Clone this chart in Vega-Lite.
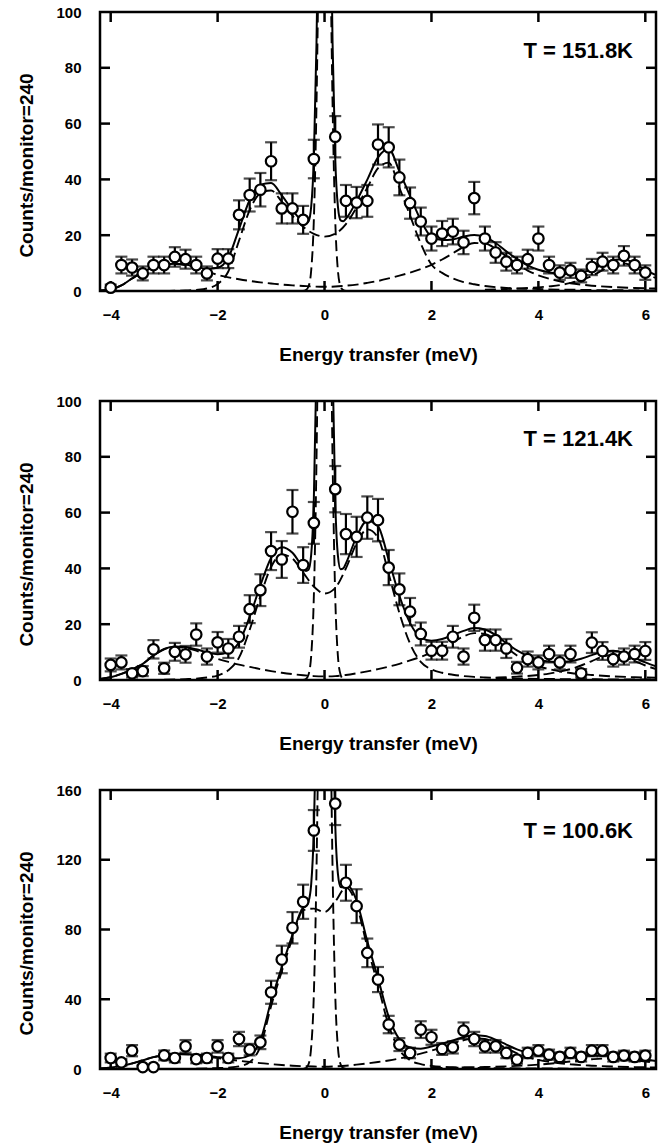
{
  "$schema": "https://vega.github.io/schema/vega-lite/v6.json",
  "background": "white",
  "padding": {"left": 16, "top": 3, "right": 8, "bottom": 3},
  "spacing": 110,
  "bounds": "flush",
  "datasets": {
    "fit1": [
      {"c":"t","e":-4.2,"v":0.2},{"c":"t","e":-4.0,"v":0.6},{"c":"t","e":-3.8,"v":2.0},{"c":"t","e":-3.6,"v":4.5},{"c":"t","e":-3.4,"v":6.8},{"c":"t","e":-3.2,"v":8.5},{"c":"t","e":-3.0,"v":9.4},{"c":"t","e":-2.8,"v":9.8},{"c":"t","e":-2.6,"v":9.5},{"c":"t","e":-2.4,"v":8.7},{"c":"t","e":-2.2,"v":7.9},{"c":"t","e":-2.0,"v":8.3},{"c":"t","e":-1.8,"v":11.9},{"c":"t","e":-1.6,"v":22.2},{"c":"t","e":-1.4,"v":32.6},{"c":"t","e":-1.2,"v":38.1},{"c":"t","e":-1.0,"v":38.7},{"c":"t","e":-0.8,"v":34.3},{"c":"t","e":-0.6,"v":29.0},{"c":"t","e":-0.4,"v":24.8},{"c":"t","e":-0.35,"v":24.2},{"c":"t","e":-0.3,"v":24.9},{"c":"t","e":-0.25,"v":30.2},{"c":"t","e":-0.2,"v":47.6},{"c":"t","e":-0.15,"v":89.1},{"c":"t","e":-0.1,"v":156.5},{"c":"t","e":-0.05,"v":225.6},{"c":"t","e":0,"v":256},{"c":"t","e":0.05,"v":225.6},{"c":"t","e":0.1,"v":156.4},{"c":"t","e":0.15,"v":89.0},{"c":"t","e":0.2,"v":47.6},{"c":"t","e":0.25,"v":30.3},{"c":"t","e":0.3,"v":25.3},{"c":"t","e":0.35,"v":25.0},{"c":"t","e":0.4,"v":25.9},{"c":"t","e":0.6,"v":32.3},{"c":"t","e":0.8,"v":39.9},{"c":"t","e":1.0,"v":47.9},{"c":"t","e":1.2,"v":50.9},{"c":"t","e":1.4,"v":42.9},{"c":"t","e":1.6,"v":34.0},{"c":"t","e":1.8,"v":25.4},{"c":"t","e":2.0,"v":19.4},{"c":"t","e":2.2,"v":18.3},{"c":"t","e":2.4,"v":18.5},{"c":"t","e":2.6,"v":19.5},{"c":"t","e":2.8,"v":20.1},{"c":"t","e":3.0,"v":19.3},{"c":"t","e":3.2,"v":17.2},{"c":"t","e":3.4,"v":14.2},{"c":"t","e":3.6,"v":11.5},{"c":"t","e":3.8,"v":9.2},{"c":"t","e":4.0,"v":7.6},{"c":"t","e":4.2,"v":6.7},{"c":"t","e":4.4,"v":6.1},{"c":"t","e":4.6,"v":6.2},{"c":"t","e":4.8,"v":6.6},{"c":"t","e":5.0,"v":7.7},{"c":"t","e":5.2,"v":9.5},{"c":"t","e":5.4,"v":11.1},{"c":"t","e":5.6,"v":11.4},{"c":"t","e":5.8,"v":9.8},{"c":"t","e":6.0,"v":7.6},{"c":"t","e":6.2,"v":5.7},
      {"c":"el","e":-0.4,"v":0},{"c":"el","e":-0.35,"v":0.3},{"c":"el","e":-0.3,"v":1.6},{"c":"el","e":-0.25,"v":7.3},{"c":"el","e":-0.2,"v":25.5},{"c":"el","e":-0.15,"v":67.3},{"c":"el","e":-0.1,"v":135},{"c":"el","e":-0.05,"v":204.5},{"c":"el","e":0,"v":235},{"c":"el","e":0.05,"v":204.5},{"c":"el","e":0.1,"v":135},{"c":"el","e":0.15,"v":67.3},{"c":"el","e":0.2,"v":25.5},{"c":"el","e":0.25,"v":7.3},{"c":"el","e":0.3,"v":1.6},{"c":"el","e":0.35,"v":0.3},{"c":"el","e":0.4,"v":0},
      {"c":"d1","e":-3.0,"v":0},{"c":"d1","e":-2.8,"v":0.1},{"c":"d1","e":-2.6,"v":0.2},{"c":"d1","e":-2.4,"v":0.4},{"c":"d1","e":-2.2,"v":0.9},{"c":"d1","e":-2.0,"v":2.5},{"c":"d1","e":-1.8,"v":7},{"c":"d1","e":-1.6,"v":18},{"c":"d1","e":-1.4,"v":29},{"c":"d1","e":-1.2,"v":35},{"c":"d1","e":-1.0,"v":36},{"c":"d1","e":-0.8,"v":32},{"c":"d1","e":-0.6,"v":27},{"c":"d1","e":-0.4,"v":23},{"c":"d1","e":-0.2,"v":20.5},{"c":"d1","e":0,"v":19.5},{"c":"d1","e":0.2,"v":20.5},{"c":"d1","e":0.4,"v":24},{"c":"d1","e":0.6,"v":30},{"c":"d1","e":0.8,"v":37},{"c":"d1","e":1.0,"v":44},{"c":"d1","e":1.2,"v":46},{"c":"d1","e":1.4,"v":37},{"c":"d1","e":1.6,"v":27},{"c":"d1","e":1.8,"v":17},{"c":"d1","e":2.0,"v":9.5},{"c":"d1","e":2.2,"v":6.5},{"c":"d1","e":2.4,"v":4.5},{"c":"d1","e":2.6,"v":3.2},{"c":"d1","e":2.8,"v":2.4},{"c":"d1","e":3.0,"v":1.8},{"c":"d1","e":3.2,"v":1.4},{"c":"d1","e":3.4,"v":1.1},{"c":"d1","e":3.6,"v":0.9},{"c":"d1","e":3.8,"v":0.8},{"c":"d1","e":4.0,"v":0.7},{"c":"d1","e":4.4,"v":0.5},{"c":"d1","e":4.8,"v":0.4},{"c":"d1","e":5.2,"v":0.3},{"c":"d1","e":5.6,"v":0.25},{"c":"d1","e":6.2,"v":0.2},
      {"c":"d2","e":-4.2,"v":0.2},{"c":"d2","e":-4.0,"v":0.6},{"c":"d2","e":-3.8,"v":2.0},{"c":"d2","e":-3.6,"v":4.5},{"c":"d2","e":-3.4,"v":6.8},{"c":"d2","e":-3.2,"v":8.5},{"c":"d2","e":-3.0,"v":9.4},{"c":"d2","e":-2.8,"v":9.7},{"c":"d2","e":-2.6,"v":9.3},{"c":"d2","e":-2.4,"v":8.3},{"c":"d2","e":-2.2,"v":7.0},{"c":"d2","e":-2.0,"v":5.8},{"c":"d2","e":-1.8,"v":4.9},{"c":"d2","e":-1.6,"v":4.2},{"c":"d2","e":-1.4,"v":3.6},{"c":"d2","e":-1.2,"v":3.1},{"c":"d2","e":-1.0,"v":2.7},{"c":"d2","e":-0.8,"v":2.3},{"c":"d2","e":-0.6,"v":2.0},{"c":"d2","e":-0.4,"v":1.8},{"c":"d2","e":-0.2,"v":1.6},{"c":"d2","e":0,"v":1.5},{"c":"d2","e":0.2,"v":1.6},{"c":"d2","e":0.4,"v":1.9},{"c":"d2","e":0.6,"v":2.3},{"c":"d2","e":0.8,"v":2.9},{"c":"d2","e":1.0,"v":3.6},{"c":"d2","e":1.2,"v":4.5},{"c":"d2","e":1.4,"v":5.5},{"c":"d2","e":1.6,"v":6.6},{"c":"d2","e":1.8,"v":7.9},{"c":"d2","e":2.0,"v":9.4},{"c":"d2","e":2.2,"v":11.3},{"c":"d2","e":2.4,"v":13.5},{"c":"d2","e":2.6,"v":15.8},{"c":"d2","e":2.8,"v":17.2},{"c":"d2","e":3.0,"v":17.0},{"c":"d2","e":3.2,"v":15.2},{"c":"d2","e":3.4,"v":12.4},{"c":"d2","e":3.6,"v":9.6},{"c":"d2","e":3.8,"v":7.3},{"c":"d2","e":4.0,"v":5.6},{"c":"d2","e":4.2,"v":4.4},{"c":"d2","e":4.4,"v":3.5},{"c":"d2","e":4.6,"v":2.8},{"c":"d2","e":4.8,"v":2.3},{"c":"d2","e":5.0,"v":1.9},{"c":"d2","e":5.4,"v":1.4},{"c":"d2","e":5.8,"v":1.1},{"c":"d2","e":6.2,"v":0.9},
      {"c":"d3","e":3.0,"v":0.5},{"c":"d3","e":3.4,"v":0.7},{"c":"d3","e":3.8,"v":1.05},{"c":"d3","e":4.0,"v":1.3},{"c":"d3","e":4.2,"v":1.65},{"c":"d3","e":4.4,"v":2.1},{"c":"d3","e":4.6,"v":2.9},{"c":"d3","e":4.8,"v":3.9},{"c":"d3","e":5.0,"v":5.4},{"c":"d3","e":5.2,"v":7.5},{"c":"d3","e":5.4,"v":9.4},{"c":"d3","e":5.6,"v":9.9},{"c":"d3","e":5.8,"v":8.5},{"c":"d3","e":6.0,"v":6.4},{"c":"d3","e":6.2,"v":4.6}
    ],
    "fit2": [
      {"c":"t","e":-4.2,"v":0.4},{"c":"t","e":-4.0,"v":1.0},{"c":"t","e":-3.8,"v":2.2},{"c":"t","e":-3.6,"v":3.8},{"c":"t","e":-3.4,"v":5.8},{"c":"t","e":-3.2,"v":8.8},{"c":"t","e":-3.0,"v":11.1},{"c":"t","e":-2.8,"v":12.0},{"c":"t","e":-2.6,"v":11.8},{"c":"t","e":-2.4,"v":11.0},{"c":"t","e":-2.2,"v":9.9},{"c":"t","e":-2.0,"v":9.2},{"c":"t","e":-1.8,"v":10.0},{"c":"t","e":-1.6,"v":13.5},{"c":"t","e":-1.4,"v":22.7},{"c":"t","e":-1.2,"v":33.9},{"c":"t","e":-1.0,"v":43.7},{"c":"t","e":-0.8,"v":47.6},{"c":"t","e":-0.6,"v":45.6},{"c":"t","e":-0.4,"v":40.2},{"c":"t","e":-0.35,"v":39.1},{"c":"t","e":-0.3,"v":39.5},{"c":"t","e":-0.25,"v":44.9},{"c":"t","e":-0.2,"v":64.9},{"c":"t","e":-0.15,"v":113.5},{"c":"t","e":-0.1,"v":192},{"c":"t","e":-0.05,"v":273.6},{"c":"t","e":0,"v":309.3},{"c":"t","e":0.05,"v":273.7},{"c":"t","e":0.1,"v":192.2},{"c":"t","e":0.15,"v":113.2},{"c":"t","e":0.2,"v":64.4},{"c":"t","e":0.25,"v":44.6},{"c":"t","e":0.3,"v":39.7},{"c":"t","e":0.35,"v":40.0},{"c":"t","e":0.4,"v":41.8},{"c":"t","e":0.6,"v":51.4},{"c":"t","e":0.8,"v":57.1},{"c":"t","e":1.0,"v":55.1},{"c":"t","e":1.2,"v":43.1},{"c":"t","e":1.4,"v":30.2},{"c":"t","e":1.6,"v":20.4},{"c":"t","e":1.8,"v":15.3},{"c":"t","e":2.0,"v":14.1},{"c":"t","e":2.2,"v":14.7},{"c":"t","e":2.4,"v":16.1},{"c":"t","e":2.6,"v":17.6},{"c":"t","e":2.8,"v":18.6},{"c":"t","e":3.0,"v":18.1},{"c":"t","e":3.2,"v":16.1},{"c":"t","e":3.4,"v":13.2},{"c":"t","e":3.6,"v":10.6},{"c":"t","e":3.8,"v":8.6},{"c":"t","e":4.0,"v":7.2},{"c":"t","e":4.2,"v":6.6},{"c":"t","e":4.4,"v":6.4},{"c":"t","e":4.6,"v":6.7},{"c":"t","e":4.8,"v":7.6},{"c":"t","e":5.0,"v":8.9},{"c":"t","e":5.2,"v":10.1},{"c":"t","e":5.4,"v":10.5},{"c":"t","e":5.6,"v":9.7},{"c":"t","e":5.8,"v":8.0},{"c":"t","e":6.0,"v":6.3},{"c":"t","e":6.2,"v":4.9},
      {"c":"el","e":-0.4,"v":0},{"c":"el","e":-0.35,"v":0.3},{"c":"el","e":-0.3,"v":1.9},{"c":"el","e":-0.25,"v":8.6},{"c":"el","e":-0.2,"v":30},{"c":"el","e":-0.15,"v":79.4},{"c":"el","e":-0.1,"v":159},{"c":"el","e":-0.05,"v":241},{"c":"el","e":0,"v":277},{"c":"el","e":0.05,"v":241},{"c":"el","e":0.1,"v":159},{"c":"el","e":0.15,"v":79.4},{"c":"el","e":0.2,"v":30},{"c":"el","e":0.25,"v":8.6},{"c":"el","e":0.3,"v":1.9},{"c":"el","e":0.35,"v":0.3},{"c":"el","e":0.4,"v":0},
      {"c":"d1","e":-3.0,"v":0.1},{"c":"d1","e":-2.6,"v":0.3},{"c":"d1","e":-2.4,"v":0.5},{"c":"d1","e":-2.2,"v":0.9},{"c":"d1","e":-2.0,"v":1.6},{"c":"d1","e":-1.8,"v":3.5},{"c":"d1","e":-1.6,"v":8},{"c":"d1","e":-1.4,"v":18},{"c":"d1","e":-1.2,"v":30},{"c":"d1","e":-1.0,"v":40.5},{"c":"d1","e":-0.8,"v":45},{"c":"d1","e":-0.6,"v":43.5},{"c":"d1","e":-0.4,"v":38.5},{"c":"d1","e":-0.2,"v":33.5},{"c":"d1","e":0,"v":31},{"c":"d1","e":0.2,"v":33},{"c":"d1","e":0.4,"v":40},{"c":"d1","e":0.6,"v":49},{"c":"d1","e":0.8,"v":54},{"c":"d1","e":1.0,"v":51},{"c":"d1","e":1.2,"v":38},{"c":"d1","e":1.4,"v":24},{"c":"d1","e":1.6,"v":13},{"c":"d1","e":1.8,"v":6.5},{"c":"d1","e":2.0,"v":3.8},{"c":"d1","e":2.2,"v":2.6},{"c":"d1","e":2.4,"v":1.9},{"c":"d1","e":2.6,"v":1.4},{"c":"d1","e":2.8,"v":1.1},{"c":"d1","e":3.0,"v":0.9},{"c":"d1","e":3.4,"v":0.6},{"c":"d1","e":4.0,"v":0.4},{"c":"d1","e":5.0,"v":0.25},{"c":"d1","e":6.2,"v":0.2},
      {"c":"d2","e":-4.2,"v":0.4},{"c":"d2","e":-4.0,"v":1.0},{"c":"d2","e":-3.8,"v":2.2},{"c":"d2","e":-3.6,"v":3.8},{"c":"d2","e":-3.4,"v":5.8},{"c":"d2","e":-3.2,"v":8.8},{"c":"d2","e":-3.0,"v":11.0},{"c":"d2","e":-2.8,"v":11.8},{"c":"d2","e":-2.6,"v":11.5},{"c":"d2","e":-2.4,"v":10.5},{"c":"d2","e":-2.2,"v":9.0},{"c":"d2","e":-2.0,"v":7.6},{"c":"d2","e":-1.8,"v":6.5},{"c":"d2","e":-1.6,"v":5.5},{"c":"d2","e":-1.4,"v":4.7},{"c":"d2","e":-1.2,"v":3.9},{"c":"d2","e":-1.0,"v":3.2},{"c":"d2","e":-0.8,"v":2.6},{"c":"d2","e":-0.6,"v":2.1},{"c":"d2","e":-0.4,"v":1.7},{"c":"d2","e":-0.2,"v":1.4},{"c":"d2","e":0,"v":1.3},{"c":"d2","e":0.2,"v":1.4},{"c":"d2","e":0.4,"v":1.8},{"c":"d2","e":0.6,"v":2.4},{"c":"d2","e":0.8,"v":3.1},{"c":"d2","e":1.0,"v":3.9},{"c":"d2","e":1.2,"v":4.8},{"c":"d2","e":1.4,"v":5.8},{"c":"d2","e":1.6,"v":7.0},{"c":"d2","e":1.8,"v":8.3},{"c":"d2","e":2.0,"v":9.8},{"c":"d2","e":2.2,"v":11.6},{"c":"d2","e":2.4,"v":13.6},{"c":"d2","e":2.6,"v":15.6},{"c":"d2","e":2.8,"v":16.8},{"c":"d2","e":3.0,"v":16.5},{"c":"d2","e":3.2,"v":14.5},{"c":"d2","e":3.4,"v":11.6},{"c":"d2","e":3.6,"v":8.8},{"c":"d2","e":3.8,"v":6.6},{"c":"d2","e":4.0,"v":5.0},{"c":"d2","e":4.2,"v":3.9},{"c":"d2","e":4.4,"v":3.1},{"c":"d2","e":4.6,"v":2.5},{"c":"d2","e":4.8,"v":2.1},{"c":"d2","e":5.0,"v":1.8},{"c":"d2","e":5.4,"v":1.3},{"c":"d2","e":5.8,"v":1.0},{"c":"d2","e":6.2,"v":0.8},
      {"c":"d3","e":3.2,"v":0.83},{"c":"d3","e":3.6,"v":1.2},{"c":"d3","e":4.0,"v":1.8},{"c":"d3","e":4.2,"v":2.3},{"c":"d3","e":4.4,"v":3.0},{"c":"d3","e":4.6,"v":3.9},{"c":"d3","e":4.8,"v":5.2},{"c":"d3","e":5.0,"v":6.8},{"c":"d3","e":5.2,"v":8.3},{"c":"d3","e":5.4,"v":9.0},{"c":"d3","e":5.6,"v":8.3},{"c":"d3","e":5.8,"v":6.8},{"c":"d3","e":6.0,"v":5.2},{"c":"d3","e":6.2,"v":3.9}
    ],
    "fit3": [
      {"c":"t","e":-4.2,"v":0.3},{"c":"t","e":-4.0,"v":0.8},{"c":"t","e":-3.8,"v":1.8},{"c":"t","e":-3.6,"v":3.2},{"c":"t","e":-3.4,"v":5.0},{"c":"t","e":-3.2,"v":6.8},{"c":"t","e":-3.0,"v":8.0},{"c":"t","e":-2.8,"v":8.6},{"c":"t","e":-2.6,"v":8.5},{"c":"t","e":-2.4,"v":8.2},{"c":"t","e":-2.2,"v":7.5},{"c":"t","e":-2.0,"v":6.8},{"c":"t","e":-1.8,"v":6.3},{"c":"t","e":-1.6,"v":6.2},{"c":"t","e":-1.4,"v":8.0},{"c":"t","e":-1.2,"v":16.4},{"c":"t","e":-1.0,"v":38.8},{"c":"t","e":-0.8,"v":58.3},{"c":"t","e":-0.6,"v":76.9},{"c":"t","e":-0.4,"v":92.6},{"c":"t","e":-0.35,"v":93.5},{"c":"t","e":-0.3,"v":96.0},{"c":"t","e":-0.25,"v":105.9},{"c":"t","e":-0.2,"v":136.4},{"c":"t","e":-0.15,"v":207.9},{"c":"t","e":-0.1,"v":322},{"c":"t","e":-0.05,"v":439.8},{"c":"t","e":0,"v":491.3},{"c":"t","e":0.05,"v":440.4},{"c":"t","e":0.1,"v":323.9},{"c":"t","e":0.15,"v":210.5},{"c":"t","e":0.2,"v":140.5},{"c":"t","e":0.25,"v":112.0},{"c":"t","e":0.3,"v":104.4},{"c":"t","e":0.35,"v":104.2},{"c":"t","e":0.4,"v":105.9},{"c":"t","e":0.6,"v":96.5},{"c":"t","e":0.8,"v":73.2},{"c":"t","e":1.0,"v":52.0},{"c":"t","e":1.2,"v":29.9},{"c":"t","e":1.4,"v":17.0},{"c":"t","e":1.6,"v":12.3},{"c":"t","e":1.8,"v":11.6},{"c":"t","e":2.0,"v":12.85},{"c":"t","e":2.2,"v":14.55},{"c":"t","e":2.4,"v":16.35},{"c":"t","e":2.6,"v":18.2},{"c":"t","e":2.8,"v":19.3},{"c":"t","e":3.0,"v":18.9},{"c":"t","e":3.2,"v":16.85},{"c":"t","e":3.4,"v":14.0},{"c":"t","e":3.6,"v":11.25},{"c":"t","e":3.8,"v":9.3},{"c":"t","e":4.0,"v":8.0},{"c":"t","e":4.2,"v":7.4},{"c":"t","e":4.4,"v":7.2},{"c":"t","e":4.6,"v":7.2},{"c":"t","e":4.8,"v":7.4},{"c":"t","e":5.0,"v":7.7},{"c":"t","e":5.2,"v":7.8},{"c":"t","e":5.4,"v":7.5},{"c":"t","e":5.6,"v":7.0},{"c":"t","e":5.8,"v":6.3},{"c":"t","e":6.0,"v":5.5},{"c":"t","e":6.2,"v":4.65},
      {"c":"el","e":-0.4,"v":0.1},{"c":"el","e":-0.35,"v":0.44},{"c":"el","e":-0.3,"v":2.7},{"c":"el","e":-0.25,"v":12.4},{"c":"el","e":-0.2,"v":43},{"c":"el","e":-0.15,"v":115},{"c":"el","e":-0.1,"v":230},{"c":"el","e":-0.05,"v":348},{"c":"el","e":0,"v":400},{"c":"el","e":0.05,"v":348},{"c":"el","e":0.1,"v":230},{"c":"el","e":0.15,"v":115},{"c":"el","e":0.2,"v":43},{"c":"el","e":0.25,"v":12.4},{"c":"el","e":0.3,"v":2.7},{"c":"el","e":0.35,"v":0.44},{"c":"el","e":0.4,"v":0.1},
      {"c":"d1","e":-2.4,"v":0.2},{"c":"d1","e":-2.0,"v":0.5},{"c":"d1","e":-1.8,"v":0.8},{"c":"d1","e":-1.6,"v":1.5},{"c":"d1","e":-1.4,"v":4},{"c":"d1","e":-1.2,"v":13},{"c":"d1","e":-1.0,"v":36},{"c":"d1","e":-0.8,"v":56},{"c":"d1","e":-0.6,"v":75},{"c":"d1","e":-0.4,"v":91},{"c":"d1","e":-0.2,"v":92},{"c":"d1","e":0,"v":90},{"c":"d1","e":0.2,"v":96},{"c":"d1","e":0.4,"v":104},{"c":"d1","e":0.6,"v":94},{"c":"d1","e":0.8,"v":70},{"c":"d1","e":1.0,"v":48},{"c":"d1","e":1.2,"v":25},{"c":"d1","e":1.4,"v":11},{"c":"d1","e":1.6,"v":5},{"c":"d1","e":1.8,"v":2.8},{"c":"d1","e":2.0,"v":1.8},{"c":"d1","e":2.4,"v":1.0},{"c":"d1","e":3.0,"v":0.6},{"c":"d1","e":4.0,"v":0.3},{"c":"d1","e":6.2,"v":0.15},
      {"c":"d2","e":-4.2,"v":0.3},{"c":"d2","e":-4.0,"v":0.8},{"c":"d2","e":-3.8,"v":1.8},{"c":"d2","e":-3.6,"v":3.2},{"c":"d2","e":-3.4,"v":5.0},{"c":"d2","e":-3.2,"v":6.8},{"c":"d2","e":-3.0,"v":8.0},{"c":"d2","e":-2.8,"v":8.6},{"c":"d2","e":-2.6,"v":8.5},{"c":"d2","e":-2.4,"v":8.0},{"c":"d2","e":-2.2,"v":7.2},{"c":"d2","e":-2.0,"v":6.3},{"c":"d2","e":-1.8,"v":5.5},{"c":"d2","e":-1.6,"v":4.7},{"c":"d2","e":-1.4,"v":4.0},{"c":"d2","e":-1.2,"v":3.4},{"c":"d2","e":-1.0,"v":2.8},{"c":"d2","e":-0.8,"v":2.3},{"c":"d2","e":-0.6,"v":1.9},{"c":"d2","e":-0.4,"v":1.6},{"c":"d2","e":-0.2,"v":1.4},{"c":"d2","e":0,"v":1.3},{"c":"d2","e":0.2,"v":1.5},{"c":"d2","e":0.4,"v":1.9},{"c":"d2","e":0.6,"v":2.5},{"c":"d2","e":0.8,"v":3.2},{"c":"d2","e":1.0,"v":4.0},{"c":"d2","e":1.2,"v":4.9},{"c":"d2","e":1.4,"v":6.0},{"c":"d2","e":1.6,"v":7.3},{"c":"d2","e":1.8,"v":8.8},{"c":"d2","e":2.0,"v":10.5},{"c":"d2","e":2.2,"v":12.5},{"c":"d2","e":2.4,"v":14.6},{"c":"d2","e":2.6,"v":16.5},{"c":"d2","e":2.8,"v":17.6},{"c":"d2","e":3.0,"v":17.2},{"c":"d2","e":3.2,"v":15.0},{"c":"d2","e":3.4,"v":12.0},{"c":"d2","e":3.6,"v":9.0},{"c":"d2","e":3.8,"v":6.8},{"c":"d2","e":4.0,"v":5.2},{"c":"d2","e":4.2,"v":4.1},{"c":"d2","e":4.4,"v":3.3},{"c":"d2","e":4.6,"v":2.7},{"c":"d2","e":4.8,"v":2.2},{"c":"d2","e":5.0,"v":1.9},{"c":"d2","e":5.4,"v":1.4},{"c":"d2","e":5.8,"v":1.1},{"c":"d2","e":6.2,"v":0.9},
      {"c":"d3","e":2.0,"v":0.55},{"c":"d3","e":2.4,"v":0.75},{"c":"d3","e":2.8,"v":1.0},{"c":"d3","e":3.0,"v":1.12},{"c":"d3","e":3.4,"v":1.5},{"c":"d3","e":3.8,"v":2.1},{"c":"d3","e":4.0,"v":2.5},{"c":"d3","e":4.2,"v":3.0},{"c":"d3","e":4.4,"v":3.6},{"c":"d3","e":4.6,"v":4.3},{"c":"d3","e":4.8,"v":5.0},{"c":"d3","e":5.0,"v":5.6},{"c":"d3","e":5.2,"v":5.95},{"c":"d3","e":5.4,"v":5.95},{"c":"d3","e":5.6,"v":5.6},{"c":"d3","e":5.8,"v":5.0},{"c":"d3","e":6.0,"v":4.3},{"c":"d3","e":6.2,"v":3.6}
    ],
    "pts1": [
      {"e":-4.0,"c":1.2,"err":1.1},{"e":-3.8,"c":9.3,"err":3.0},{"e":-3.6,"c":8.4,"err":2.9},{"e":-3.4,"c":6.3,"err":2.5},{"e":-3.2,"c":9.3,"err":3.0},{"e":-3.0,"c":9.3,"err":3.0},{"e":-2.8,"c":12.2,"err":3.5},{"e":-2.6,"c":11.4,"err":3.4},{"e":-2.4,"c":9.3,"err":3.0},{"e":-2.2,"c":6.3,"err":2.5},{"e":-2.0,"c":11.6,"err":3.4},{"e":-1.8,"c":11.6,"err":3.4},{"e":-1.6,"c":27.3,"err":5.2},{"e":-1.4,"c":34.4,"err":5.9},{"e":-1.2,"c":36.3,"err":6.0},{"e":-1.0,"c":46.5,"err":6.8},{"e":-0.8,"c":29.6,"err":5.4},{"e":-0.6,"c":29.6,"err":5.4},{"e":-0.4,"c":25.5,"err":5.0},{"e":-0.2,"c":47.3,"err":6.9},{"e":0.2,"c":55.3,"err":7.4},{"e":0.4,"c":32.3,"err":5.7},{"e":0.6,"c":31.7,"err":5.6},{"e":0.8,"c":32.3,"err":5.7},{"e":1.0,"c":52.5,"err":7.2},{"e":1.2,"c":51.5,"err":7.2},{"e":1.4,"c":40.7,"err":6.4},{"e":1.6,"c":31.5,"err":5.6},{"e":1.8,"c":24.9,"err":5.0},{"e":2.0,"c":18.8,"err":4.3},{"e":2.2,"c":20.6,"err":4.5},{"e":2.4,"c":21.3,"err":4.6},{"e":2.6,"c":17.4,"err":4.2},{"e":2.8,"c":33.3,"err":5.8},{"e":3.0,"c":18.8,"err":4.3},{"e":3.2,"c":13.8,"err":3.7},{"e":3.4,"c":10.5,"err":3.2},{"e":3.6,"c":9.3,"err":3.0},{"e":3.8,"c":11.4,"err":3.4},{"e":4.0,"c":18.8,"err":4.3},{"e":4.2,"c":9.3,"err":3.0},{"e":4.4,"c":6.6,"err":2.6},{"e":4.6,"c":7.4,"err":2.7},{"e":4.8,"c":5.4,"err":2.3},{"e":5.0,"c":8.6,"err":2.9},{"e":5.2,"c":10.5,"err":3.2},{"e":5.4,"c":9.3,"err":3.0},{"e":5.6,"c":12.6,"err":3.5},{"e":5.8,"c":9.3,"err":3.0},{"e":6.0,"c":6.6,"err":2.6}
    ],
    "pts2": [
      {"e":-4.0,"c":5.4,"err":2.3},{"e":-3.8,"c":6.3,"err":2.5},{"e":-3.6,"c":2.4,"err":1.5},{"e":-3.4,"c":3.2,"err":1.8},{"e":-3.2,"c":11.0,"err":3.3},{"e":-3.0,"c":4.2,"err":2.0},{"e":-2.8,"c":10.1,"err":3.2},{"e":-2.6,"c":9.2,"err":3.0},{"e":-2.4,"c":16.3,"err":4.0},{"e":-2.2,"c":8.4,"err":2.9},{"e":-2.0,"c":13.5,"err":3.7},{"e":-1.8,"c":11.3,"err":3.4},{"e":-1.6,"c":15.5,"err":3.9},{"e":-1.4,"c":25.4,"err":5.0},{"e":-1.2,"c":32.2,"err":5.7},{"e":-1.0,"c":46.2,"err":6.8},{"e":-0.8,"c":43.2,"err":6.6},{"e":-0.6,"c":60.3,"err":7.8},{"e":-0.4,"c":41.2,"err":6.4},{"e":-0.2,"c":56.3,"err":7.5},{"e":0.2,"c":68.4,"err":8.3},{"e":0.4,"c":52.3,"err":7.2},{"e":0.6,"c":51.3,"err":7.2},{"e":0.8,"c":58.2,"err":7.6},{"e":1.0,"c":57.3,"err":7.6},{"e":1.2,"c":40.3,"err":6.3},{"e":1.4,"c":32.5,"err":5.7},{"e":1.6,"c":24.5,"err":4.9},{"e":1.8,"c":16.5,"err":4.1},{"e":2.0,"c":10.5,"err":3.2},{"e":2.2,"c":10.5,"err":3.2},{"e":2.4,"c":15.5,"err":3.9},{"e":2.6,"c":8.4,"err":2.9},{"e":2.8,"c":22.3,"err":4.7},{"e":3.0,"c":14.3,"err":3.8},{"e":3.2,"c":14.3,"err":3.8},{"e":3.4,"c":11.3,"err":3.4},{"e":3.6,"c":4.4,"err":2.1},{"e":3.8,"c":7.5,"err":2.7},{"e":4.0,"c":6.3,"err":2.5},{"e":4.2,"c":9.3,"err":3.0},{"e":4.4,"c":6.3,"err":2.5},{"e":4.6,"c":9.3,"err":3.0},{"e":4.8,"c":2.4,"err":1.5},{"e":5.0,"c":13.4,"err":3.7},{"e":5.2,"c":10.4,"err":3.2},{"e":5.4,"c":7.5,"err":2.7},{"e":5.6,"c":8.4,"err":2.9},{"e":5.8,"c":9.3,"err":3.0},{"e":6.0,"c":10.4,"err":3.2}
    ],
    "pts3": [
      {"e":-4.0,"c":6.3,"err":2.5},{"e":-3.8,"c":3.8,"err":1.9},{"e":-3.6,"c":10.5,"err":3.2},{"e":-3.4,"c":1.1,"err":1.0},{"e":-3.2,"c":1.1,"err":1.0},{"e":-3.0,"c":7.8,"err":2.8},{"e":-2.8,"c":6.3,"err":2.5},{"e":-2.6,"c":13.0,"err":3.6},{"e":-2.4,"c":5.7,"err":2.4},{"e":-2.2,"c":6.3,"err":2.5},{"e":-2.0,"c":13.0,"err":3.6},{"e":-1.8,"c":6.3,"err":2.5},{"e":-1.6,"c":17.2,"err":4.1},{"e":-1.4,"c":11.1,"err":3.3},{"e":-1.2,"c":15.3,"err":3.9},{"e":-1.0,"c":44.0,"err":6.6},{"e":-0.8,"c":62.8,"err":7.9},{"e":-0.6,"c":81.0,"err":9.0},{"e":-0.4,"c":95.9,"err":9.8},{"e":-0.2,"c":136.8,"err":11.7},{"e":0.2,"c":152.2,"err":12.3},{"e":0.4,"c":106.8,"err":10.3},{"e":0.6,"c":93.4,"err":9.7},{"e":0.8,"c":66.6,"err":8.2},{"e":1.0,"c":51.3,"err":7.2},{"e":1.2,"c":25.5,"err":5.0},{"e":1.4,"c":14.0,"err":3.7},{"e":1.6,"c":9.2,"err":3.0},{"e":1.8,"c":22.6,"err":4.8},{"e":2.0,"c":18.2,"err":4.3},{"e":2.2,"c":11.5,"err":3.4},{"e":2.4,"c":12.4,"err":3.5},{"e":2.6,"c":22.0,"err":4.7},{"e":2.8,"c":17.2,"err":4.1},{"e":3.0,"c":13.0,"err":3.6},{"e":3.2,"c":13.0,"err":3.6},{"e":3.4,"c":9.2,"err":3.0},{"e":3.6,"c":5.4,"err":2.3},{"e":3.8,"c":9.2,"err":3.0},{"e":4.0,"c":10.5,"err":3.2},{"e":4.2,"c":8.2,"err":2.9},{"e":4.4,"c":6.9,"err":2.6},{"e":4.6,"c":9.2,"err":3.0},{"e":4.8,"c":6.9,"err":2.6},{"e":5.0,"c":10.5,"err":3.2},{"e":5.2,"c":10.5,"err":3.2},{"e":5.4,"c":6.9,"err":2.6},{"e":5.6,"c":7.7,"err":2.8},{"e":5.8,"c":6.9,"err":2.6},{"e":6.0,"c":7.7,"err":2.8}
    ],
    "temps": [
      {"p":1,"label":"T = 151.8K","e":5.77,"v":86},
      {"p":2,"label":"T = 121.4K","e":5.77,"v":86.4},
      {"p":3,"label":"T = 100.6K","e":5.77,"v":136.5}
    ],
    "xticks": [{"e":-4},{"e":-2},{"e":0},{"e":2},{"e":4},{"e":6}],
    "yticks100": [{"v":20},{"v":40},{"v":60},{"v":80}],
    "yticks160": [{"v":40},{"v":80},{"v":120}]
  },
  "vconcat": [
    {
      "width": 556, "height": 279,
      "resolve": {"axis": {"x": "independent", "y": "independent"}},
      "layer": [
        {"data": {"name": "fit1"}, "transform": [{"filter": "datum.c === 't'"}],
         "mark": {"type": "line", "color": "black", "strokeWidth": 2, "interpolate": "monotone", "clip": true},
         "encoding": {
           "x": {"field": "e", "type": "quantitative", "scale": {"domain": [-4.2, 6.2], "nice": false, "zero": false}, "axis": {"values": [-4, -2, 0, 2, 4, 6], "ticks": false, "tickSize": 0, "labelPadding": 16, "titlePadding": 23, "title": "Energy transfer (meV)"}},
           "y": {"field": "v", "type": "quantitative", "scale": {"domain": [0, 100], "nice": false}, "axis": {"values": [0, 20, 40, 60, 80, 100], "ticks": false, "tickSize": 0, "labelPadding": 19, "titlePadding": 19, "title": "Counts/monitor=240", "titleY": 153}}}},
        {"data": {"name": "fit1"}, "transform": [{"filter": "datum.c !== 't'"}],
         "mark": {"type": "line", "color": "black", "strokeWidth": 1.9, "strokeDash": [11, 5], "interpolate": "monotone", "clip": true},
         "encoding": {"x": {"field": "e", "type": "quantitative", "axis": null}, "y": {"field": "v", "type": "quantitative", "axis": null}, "detail": {"field": "c"}}},
        {"data": {"name": "xticks"},
         "mark": {"type": "tick", "orient": "vertical", "thickness": 2.5, "color": "black", "opacity": 1, "clip": true},
         "encoding": {"x": {"field": "e", "type": "quantitative", "axis": null}, "y": {"datum": 0, "type": "quantitative", "axis": null}, "size": {"value": 20}}},
        {"data": {"name": "xticks"},
         "mark": {"type": "tick", "orient": "vertical", "thickness": 2.5, "color": "black", "opacity": 1, "clip": true},
         "encoding": {"x": {"field": "e", "type": "quantitative", "axis": null}, "y": {"datum": 100, "type": "quantitative", "axis": null}, "size": {"value": 20}}},
        {"data": {"name": "yticks100"},
         "mark": {"type": "tick", "orient": "horizontal", "thickness": 2.5, "color": "black", "opacity": 1, "clip": true},
         "encoding": {"y": {"field": "v", "type": "quantitative", "axis": null}, "x": {"datum": -4.2, "type": "quantitative", "axis": null}, "size": {"value": 20}}},
        {"data": {"name": "yticks100"},
         "mark": {"type": "tick", "orient": "horizontal", "thickness": 2.5, "color": "black", "opacity": 1, "clip": true},
         "encoding": {"y": {"field": "v", "type": "quantitative", "axis": null}, "x": {"datum": 6.2, "type": "quantitative", "axis": null}, "size": {"value": 20}}},
        {"data": {"name": "pts1"},
         "mark": {"type": "errorbar", "color": "black", "thickness": 2.2, "size": 12, "ticks": true, "clip": true},
         "encoding": {"x": {"field": "e", "type": "quantitative", "axis": null}, "y": {"field": "c", "type": "quantitative", "axis": null}, "yError": {"field": "err"}}},
        {"data": {"name": "pts1"},
         "mark": {"type": "point", "shape": "circle", "filled": true, "fill": "white", "stroke": "black", "strokeWidth": 2.2, "size": 110, "opacity": 1},
         "encoding": {"x": {"field": "e", "type": "quantitative", "axis": null}, "y": {"field": "c", "type": "quantitative", "axis": null}}},
        {"data": {"name": "temps"}, "transform": [{"filter": "datum.p === 1"}],
         "mark": {"type": "text", "align": "right", "baseline": "middle", "fontSize": 22, "fontWeight": "bold", "color": "black"},
         "encoding": {"x": {"field": "e", "type": "quantitative", "axis": null}, "y": {"field": "v", "type": "quantitative", "axis": null}, "text": {"field": "label"}}}
      ]
    },
    {
      "width": 556, "height": 279,
      "resolve": {"axis": {"x": "independent", "y": "independent"}},
      "layer": [
        {"data": {"name": "fit2"}, "transform": [{"filter": "datum.c === 't'"}],
         "mark": {"type": "line", "color": "black", "strokeWidth": 2, "interpolate": "monotone", "clip": true},
         "encoding": {
           "x": {"field": "e", "type": "quantitative", "scale": {"domain": [-4.2, 6.2], "nice": false, "zero": false}, "axis": {"values": [-4, -2, 0, 2, 4, 6], "ticks": false, "tickSize": 0, "labelPadding": 16, "titlePadding": 23, "title": "Energy transfer (meV)"}},
           "y": {"field": "v", "type": "quantitative", "scale": {"domain": [0, 100], "nice": false}, "axis": {"values": [0, 20, 40, 60, 80, 100], "ticks": false, "tickSize": 0, "labelPadding": 19, "titlePadding": 19, "title": "Counts/monitor=240", "titleY": 153}}}},
        {"data": {"name": "fit2"}, "transform": [{"filter": "datum.c !== 't'"}],
         "mark": {"type": "line", "color": "black", "strokeWidth": 1.9, "strokeDash": [11, 5], "interpolate": "monotone", "clip": true},
         "encoding": {"x": {"field": "e", "type": "quantitative", "axis": null}, "y": {"field": "v", "type": "quantitative", "axis": null}, "detail": {"field": "c"}}},
        {"data": {"name": "xticks"},
         "mark": {"type": "tick", "orient": "vertical", "thickness": 2.5, "color": "black", "opacity": 1, "clip": true},
         "encoding": {"x": {"field": "e", "type": "quantitative", "axis": null}, "y": {"datum": 0, "type": "quantitative", "axis": null}, "size": {"value": 20}}},
        {"data": {"name": "xticks"},
         "mark": {"type": "tick", "orient": "vertical", "thickness": 2.5, "color": "black", "opacity": 1, "clip": true},
         "encoding": {"x": {"field": "e", "type": "quantitative", "axis": null}, "y": {"datum": 100, "type": "quantitative", "axis": null}, "size": {"value": 20}}},
        {"data": {"name": "yticks100"},
         "mark": {"type": "tick", "orient": "horizontal", "thickness": 2.5, "color": "black", "opacity": 1, "clip": true},
         "encoding": {"y": {"field": "v", "type": "quantitative", "axis": null}, "x": {"datum": -4.2, "type": "quantitative", "axis": null}, "size": {"value": 20}}},
        {"data": {"name": "yticks100"},
         "mark": {"type": "tick", "orient": "horizontal", "thickness": 2.5, "color": "black", "opacity": 1, "clip": true},
         "encoding": {"y": {"field": "v", "type": "quantitative", "axis": null}, "x": {"datum": 6.2, "type": "quantitative", "axis": null}, "size": {"value": 20}}},
        {"data": {"name": "pts2"},
         "mark": {"type": "errorbar", "color": "black", "thickness": 2.2, "size": 12, "ticks": true, "clip": true},
         "encoding": {"x": {"field": "e", "type": "quantitative", "axis": null}, "y": {"field": "c", "type": "quantitative", "axis": null}, "yError": {"field": "err"}}},
        {"data": {"name": "pts2"},
         "mark": {"type": "point", "shape": "circle", "filled": true, "fill": "white", "stroke": "black", "strokeWidth": 2.2, "size": 110, "opacity": 1},
         "encoding": {"x": {"field": "e", "type": "quantitative", "axis": null}, "y": {"field": "c", "type": "quantitative", "axis": null}}},
        {"data": {"name": "temps"}, "transform": [{"filter": "datum.p === 2"}],
         "mark": {"type": "text", "align": "right", "baseline": "middle", "fontSize": 22, "fontWeight": "bold", "color": "black"},
         "encoding": {"x": {"field": "e", "type": "quantitative", "axis": null}, "y": {"field": "v", "type": "quantitative", "axis": null}, "text": {"field": "label"}}}
      ]
    },
    {
      "width": 556, "height": 279,
      "resolve": {"axis": {"x": "independent", "y": "independent"}},
      "layer": [
        {"data": {"name": "fit3"}, "transform": [{"filter": "datum.c === 't'"}],
         "mark": {"type": "line", "color": "black", "strokeWidth": 2, "interpolate": "monotone", "clip": true},
         "encoding": {
           "x": {"field": "e", "type": "quantitative", "scale": {"domain": [-4.2, 6.2], "nice": false, "zero": false}, "axis": {"values": [-4, -2, 0, 2, 4, 6], "ticks": false, "tickSize": 0, "labelPadding": 16, "titlePadding": 23, "title": "Energy transfer (meV)"}},
           "y": {"field": "v", "type": "quantitative", "scale": {"domain": [0, 160], "nice": false}, "axis": {"values": [0, 40, 80, 120, 160], "ticks": false, "tickSize": 0, "labelPadding": 19, "titlePadding": 19, "title": "Counts/monitor=240", "titleY": 153}}}},
        {"data": {"name": "fit3"}, "transform": [{"filter": "datum.c !== 't'"}],
         "mark": {"type": "line", "color": "black", "strokeWidth": 1.9, "strokeDash": [11, 5], "interpolate": "monotone", "clip": true},
         "encoding": {"x": {"field": "e", "type": "quantitative", "axis": null}, "y": {"field": "v", "type": "quantitative", "axis": null}, "detail": {"field": "c"}}},
        {"data": {"name": "xticks"},
         "mark": {"type": "tick", "orient": "vertical", "thickness": 2.5, "color": "black", "opacity": 1, "clip": true},
         "encoding": {"x": {"field": "e", "type": "quantitative", "axis": null}, "y": {"datum": 0, "type": "quantitative", "axis": null}, "size": {"value": 20}}},
        {"data": {"name": "xticks"},
         "mark": {"type": "tick", "orient": "vertical", "thickness": 2.5, "color": "black", "opacity": 1, "clip": true},
         "encoding": {"x": {"field": "e", "type": "quantitative", "axis": null}, "y": {"datum": 160, "type": "quantitative", "axis": null}, "size": {"value": 20}}},
        {"data": {"name": "yticks160"},
         "mark": {"type": "tick", "orient": "horizontal", "thickness": 2.5, "color": "black", "opacity": 1, "clip": true},
         "encoding": {"y": {"field": "v", "type": "quantitative", "axis": null}, "x": {"datum": -4.2, "type": "quantitative", "axis": null}, "size": {"value": 20}}},
        {"data": {"name": "yticks160"},
         "mark": {"type": "tick", "orient": "horizontal", "thickness": 2.5, "color": "black", "opacity": 1, "clip": true},
         "encoding": {"y": {"field": "v", "type": "quantitative", "axis": null}, "x": {"datum": 6.2, "type": "quantitative", "axis": null}, "size": {"value": 20}}},
        {"data": {"name": "pts3"},
         "mark": {"type": "errorbar", "color": "black", "thickness": 2.2, "size": 12, "ticks": true, "clip": true},
         "encoding": {"x": {"field": "e", "type": "quantitative", "axis": null}, "y": {"field": "c", "type": "quantitative", "axis": null}, "yError": {"field": "err"}}},
        {"data": {"name": "pts3"},
         "mark": {"type": "point", "shape": "circle", "filled": true, "fill": "white", "stroke": "black", "strokeWidth": 2.2, "size": 110, "opacity": 1},
         "encoding": {"x": {"field": "e", "type": "quantitative", "axis": null}, "y": {"field": "c", "type": "quantitative", "axis": null}}},
        {"data": {"name": "temps"}, "transform": [{"filter": "datum.p === 3"}],
         "mark": {"type": "text", "align": "right", "baseline": "middle", "fontSize": 22, "fontWeight": "bold", "color": "black"},
         "encoding": {"x": {"field": "e", "type": "quantitative", "axis": null}, "y": {"field": "v", "type": "quantitative", "axis": null}, "text": {"field": "label"}}}
      ]
    }
  ],
  "config": {
    "font": "Liberation Sans",
    "view": {"stroke": "black", "strokeWidth": 2.5},
    "axis": {
      "domain": false, "grid": false,
      "labelFont": "Liberation Sans", "labelFontSize": 15, "labelFontWeight": "bold", "labelColor": "black", "labelFlush": false, "labelOverlap": false,
      "titleFont": "Liberation Sans", "titleFontSize": 19, "titleFontWeight": "bold", "titleColor": "black"
    }
  }
}
